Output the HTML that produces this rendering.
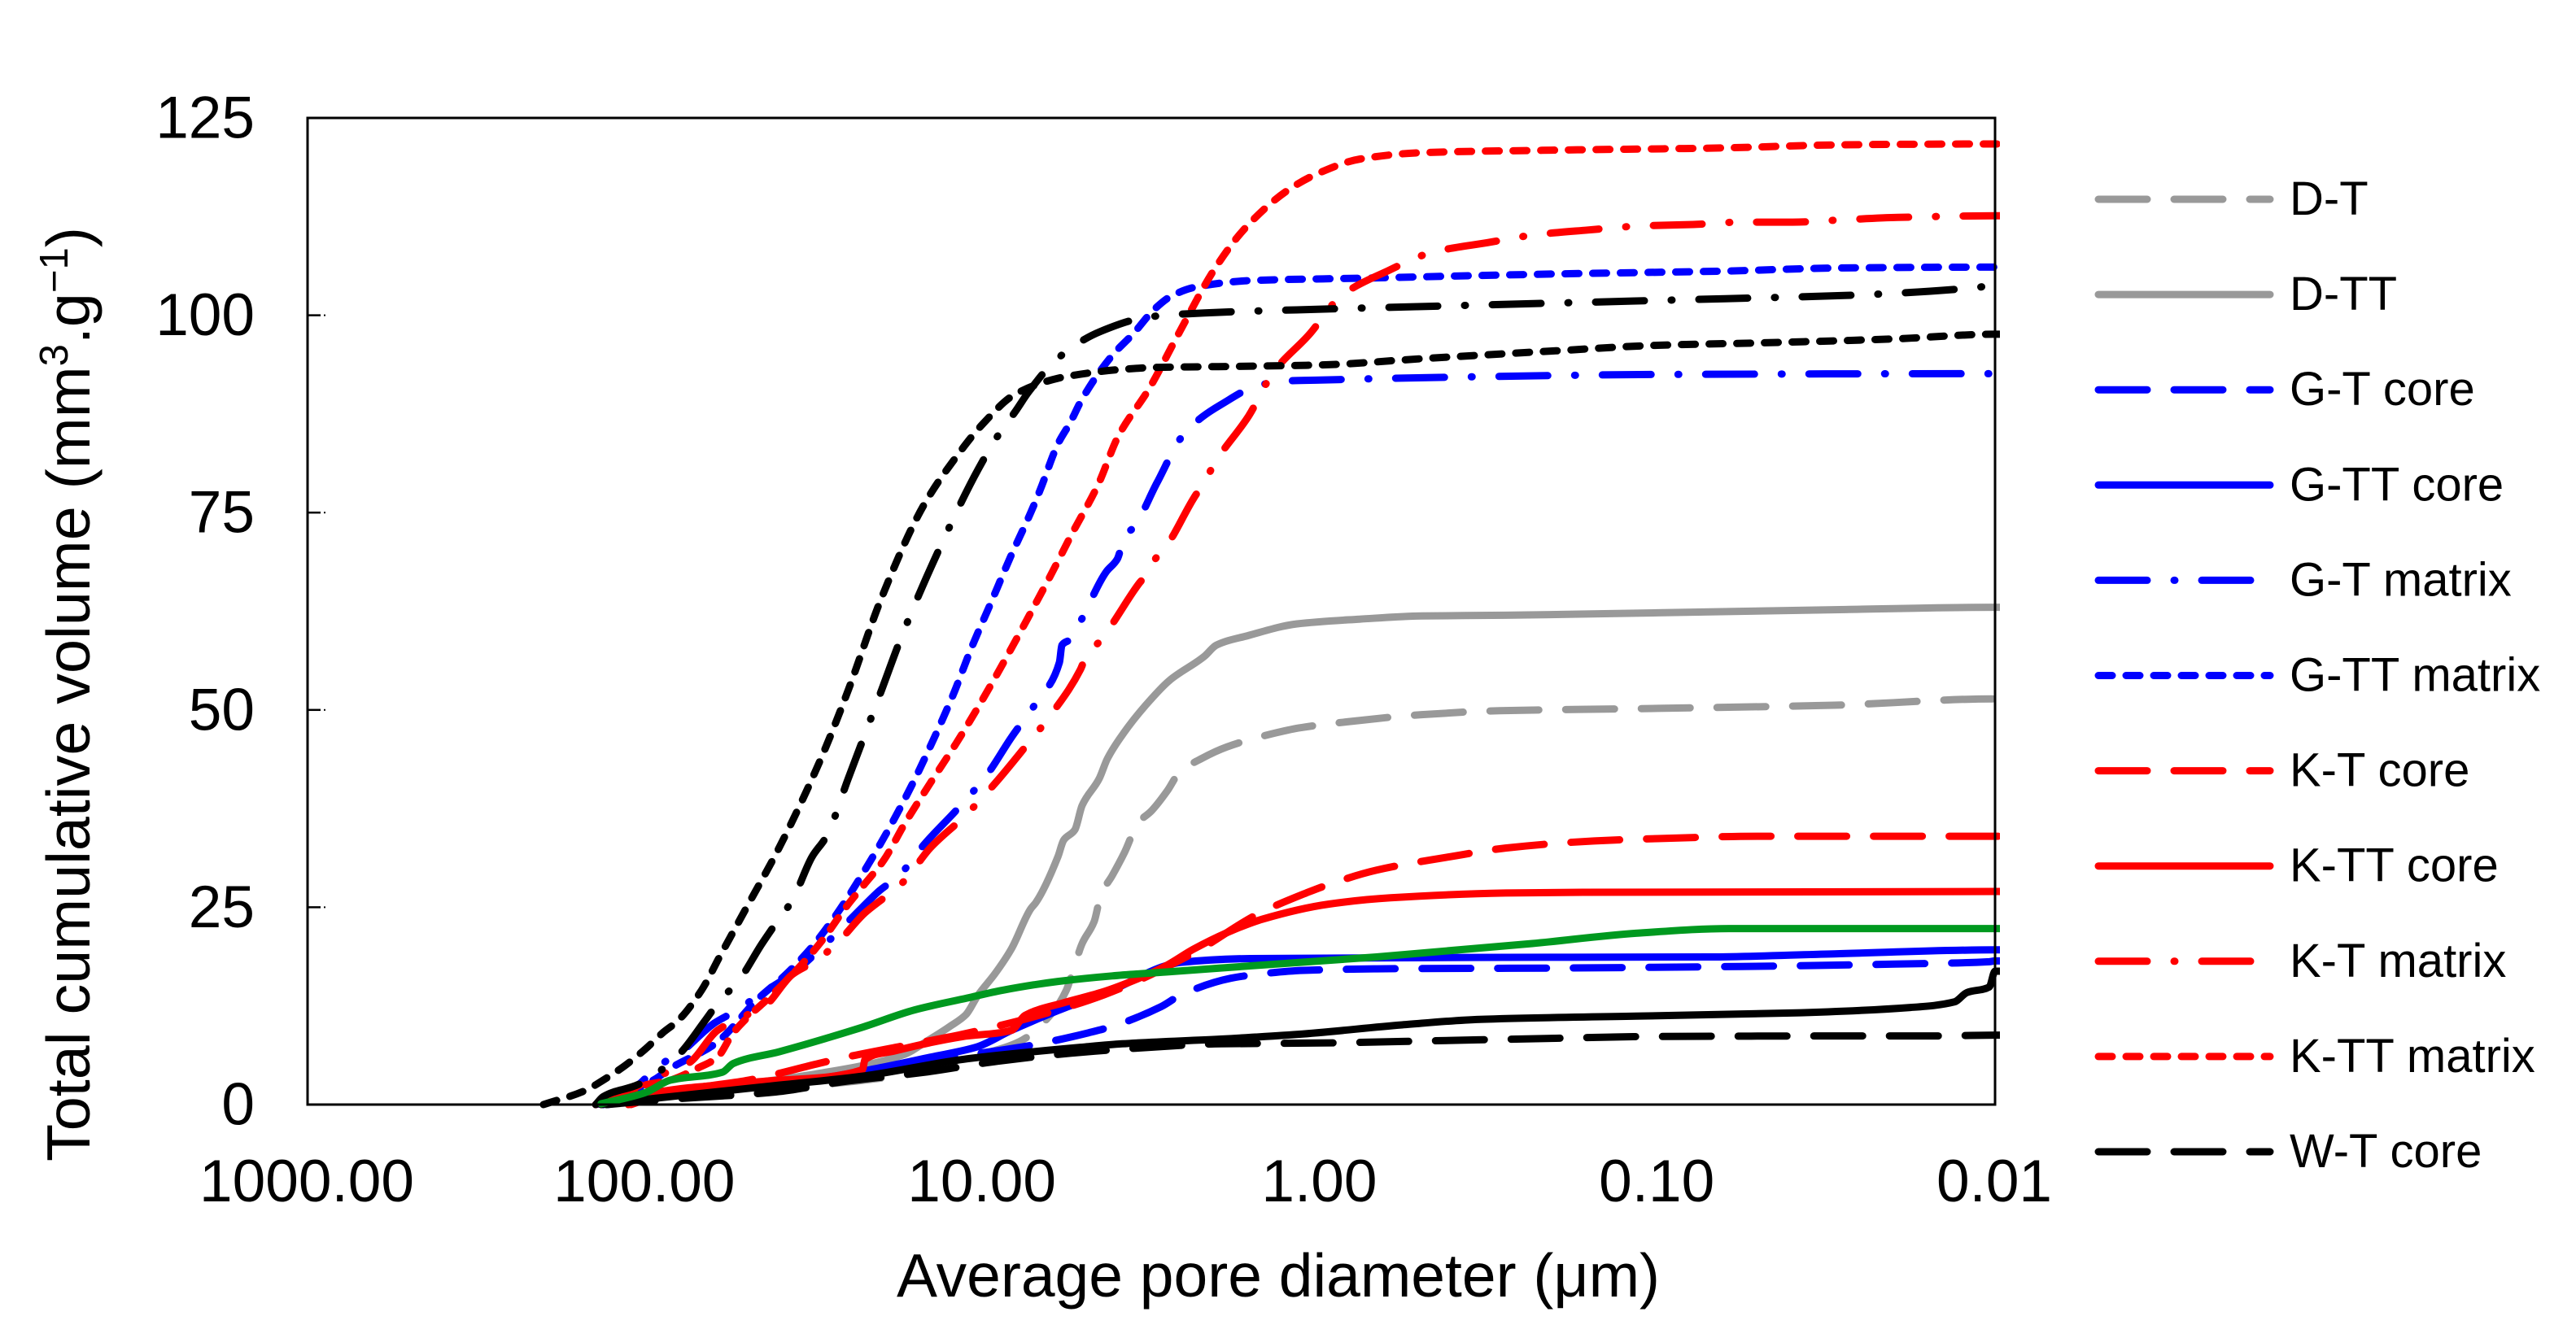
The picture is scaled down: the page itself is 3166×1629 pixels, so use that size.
<!DOCTYPE html>
<html lang="en">
<head>
<meta charset="utf-8">
<title>Total cumulative volume vs average pore diameter</title>
<style>
html,body{margin:0;padding:0;background:#fff;}
svg{display:block;font-family:"Liberation Sans",Arial,sans-serif;}
</style>
</head>
<body>
<svg id="chart" xmlns="http://www.w3.org/2000/svg" width="3166" height="1629" viewBox="0 0 3166 1629">
  <defs><clipPath id="plot-clip"><rect x="0" y="0" width="2458" height="1629"/></clipPath></defs>
  <rect x="0" y="0" width="3166" height="1629" fill="#ffffff"/>
  <g id="ticks"></g>
  <g id="series" clip-path="url(#plot-clip)"></g>
  <rect x="378" y="145" width="2074" height="1213" fill="none" stroke="#000" stroke-width="3"/>
  <g id="tick-labels" font-size="73" fill="#000"></g>
  <text transform="translate(110,1428) rotate(-90)" font-size="75.5" fill="#000">Total cumulative volume (mm<tspan font-size="49" dy="-27">3</tspan><tspan dy="27">.g</tspan><tspan font-size="49" dy="-27">−1</tspan><tspan dy="27">)</tspan></text>
  <text x="1571" y="1594" text-anchor="middle" font-size="75" fill="#000">Average pore diameter (μm)</text>
  <g id="legend"></g>
</svg>
<script>
// ---- axis data ----
const yTickValues = [0, 25, 50, 75, 100, 125];
const xTickValues = [1000, 100, 10, 1, 0.1, 0.01];
const xTickLabels = ["1000.00", "100.00", "10.00", "1.00", "0.10", "0.01"];

// ---- series data: diameter (µm) and cumulative volume (mm3/g) ----
const dtDiameter = [130,100,60,30,17.7,10,7.76,6.22,5.66,5.45,5.07,4.67,4.46,4.13,3.8,3.46,3.16,2.83,2.62,2.23,1.89,1.38,1.16,.83,.5,.294,.1,.03,.01];
const dtVolume = [0,.6,1.2,2.5,3.7,6.4,8,11.6,14.4,16.3,20.4,23.2,26.6,29,31.9,35.7,37.2,39.8,42,43.9,45.3,47,47.7,48.5,49.4,49.9,50.2,50.6,51.4];

const dttDiameter = [130,100,60,30,17.2,14.3,12.5,11.2,10.3,9.18,8.22,7.2,6.95,5.98,5.75,5.33,5.07,4.51,4.27,3.8,3.3,2.8,2.2,2.03,1.64,1.17,.764,.5,.282,.1,.03,.01];
const dttVolume = [0,1,2.2,4,6.3,8.3,9.9,11.4,13.9,16.6,19.7,24.8,25.6,31.4,33.5,34.8,37.9,41.3,43.8,47.2,50.5,53.7,56.8,58.2,59.4,60.9,61.5,61.9,62,62.3,62.7,63];

const gtCoreDiameter = [130,100,60,30,17,7.9,6.8,4.85,4.13,2.96,2.58,1.84,1.54,1.12,.68,.197,.057,.0198,.0104,.01];
const gtCoreVolume = [0,.6,1.5,3.2,5.2,7.2,7.7,9.1,9.9,12.4,13.9,16,16.5,17,17.2,17.3,17.5,17.8,18.1,18.2];

const gttCoreDiameter = [140,78,32,20.5,14.3,10.4,8.22,5.98,4.99,4.13,2.86,2.6,1.61,.282,.07,.03,.01];
const gttCoreVolume = [0,1.9,3.2,4.6,6,7.3,9.4,11.9,13.2,14.5,17.6,18,18.5,18.65,18.7,19.1,19.6];

const gtMatrixDiameter = [133,104,93.3,78,62.4,53.7,45.9,36.6,28,22.7,20.2,17.7,14.8,11.9,9.7,8.22,6.89,5.92,5.82,5.45,5.07,4.3,3.99,3.78,3.59,3.04,2.58,2.3,1.98,1.5,1.22,1,.36,.1,.01];
const gtMatrixVolume = [0,2.6,4.6,6.7,10.3,11.9,13.9,16.6,21.1,25,27.1,29,33.1,37.4,41.8,46.5,51.1,56,58.2,59,61.6,67.5,69.1,72.2,73,78.8,84.5,86.7,88.6,91.2,91.7,91.8,92.2,92.5,92.6];

const gttMatrixDiameter = [133,93.5,84,62,46,38,32,27,22.7,19.2,16.1,14,12.2,10.8,9.44,8.26,7.2,6.76,5.98,5.5,5.07,4.13,3.57,3.09,2.74,2.32,1.6,.76,.22,.064,.028,.01];
const gttMatrixVolume = [0,3.2,4.6,7.7,13.5,16.6,20,24.2,29.2,34.5,40.7,46.2,52,57.8,63.6,69.4,75,77.8,83.7,86.4,89.4,94.9,97.7,100.8,102.5,103.6,104.4,104.7,105.2,105.6,106,106.1];

const ktCoreDiameter = [110,84,49.3,30.6,26.7,16,11.5,9.75,7.08,4.37,2.37,1.52,1.1,.94,.68,.412,.282,.154,.1,.05,.01];
const ktCoreVolume = [0,1.6,3.1,5.2,5.8,7.7,8.9,9.6,11.1,13.9,19.2,24.2,26.8,27.9,29.7,31.4,32.5,33.4,33.7,34,34];

const kttCoreDiameter = [112,93.5,45.9,22.7,22.3,18.2,11.5,8.22,7.48,5.75,4.46,3.44,2.86,2.37,1.79,1.48,.94,.618,.282,.166,.01];
const kttCoreVolume = [0,1.5,2.9,4.4,5.7,6.8,8.6,9.4,11.3,12.9,14.2,16,17.6,19.7,22.2,23.5,25.4,26.2,26.8,26.9,27];

const ktMatrixDiameter = [140,102,88,74,61,52.7,44.4,36.6,31.6,27.5,22.3,19.6,17.1,14.3,11.2,9.18,7.48,6.22,5.13,4.88,4.54,4.25,3.44,3.25,3.08,2.86,2.37,2.24,2,1.63,1.38,1.08,.863,.632,.463,.319,.23,.161,.114,.0784,.0565,.0398,.0281,.0194,.01];
const ktMatrixVolume = [0,2.6,3.9,5.3,9.4,10.9,12.4,16.5,18.1,20.1,24.3,26.2,28.3,32.5,36.7,40.7,45.3,49.6,55.1,57.3,58.5,60.1,66,67.3,69.1,70.7,76.8,78.4,82,87.2,92.7,97.5,102.5,105.6,108,109.2,110.2,110.8,111.3,111.5,111.8,111.8,112.1,112.4,112.6];

const kttMatrixDiameter = [112,104,84,70,61,55,49,43,34.6,30,25.2,22.7,19.6,17,14.3,12,10.1,8.59,7.35,6.33,5.42,4.54,3.97,3.2,2.6,2.05,1.67,1.24,1.01,.76,.5,.22,.065,.028,.01];
const kttMatrixVolume = [0,2.2,3.1,4.6,6,9,11.3,13.5,17.6,20.7,25.2,27.6,31,35.6,40.7,45.7,51,56.3,61.6,66.8,72.4,78.6,84.6,90.8,98,105.9,111,115.9,118,119.8,120.6,120.9,121.2,121.6,121.7];

const wtCoreDiameter = [130,90,41,26,14.8,9,5.5,3.34,1.97,1,.57,.34,.2,.118,.024,.015,.01];
const wtCoreVolume = [0,.6,1.6,2.9,4.1,5.5,6.5,7.2,7.7,7.8,8,8.2,8.4,8.6,8.7,8.7,8.8];

const wttCoreDiameter = [135,93,46,22.7,11.1,5,3.86,1.97,1.16,.571,.336,.116,.0401,.0178,.0132,.0121,.0104,.01];
const wttCoreVolume = [0,.8,2.2,3.6,5.8,7.3,7.7,8.3,8.9,10.1,10.8,11.2,11.6,12.3,13,14.2,14.9,16.9];

const wtMatrixDiameter = [140,133,104,79.6,66,60,53,45,40.6,36.6,32,29,25,20,17.3,13.4,10.3,8.8,8,7.3,6,4.5,3.2,2.2,.93,.22,.063,.028,.0114,.01];
const wtMatrixVolume = [0,1,2.6,6.3,10.8,13.2,15.6,20.4,23.2,25.9,31.4,34,41.3,52.3,59.5,70.5,80.5,85.4,87.8,90.3,94.5,97.9,99.8,100.3,100.8,101.5,102.1,102.5,103.5,103.8];

const wttMatrixDiameter = [200,150,133,115,100,88,80,68,60,50,40,30,25,20,15,12,10,8,6,5,4,3,2,1,.5,.2,.1,.05,.02,.01];
const wttMatrixVolume = [0,1.8,3.1,4.9,7,9.2,10.6,14.5,18.8,25,32.6,44,52.5,64,75.8,82,86.2,90,92,92.6,93.1,93.4,93.5,93.7,94.5,95.5,96.2,96.5,97,97.6];

const greenDiameter = [135,100,84,59,54.8,40,22.7,15.9,11.1,8.69,5.98,4.13,2.86,1.97,.68,.235,.116,.0614,.01];
const greenVolume = [.1,1.5,3.1,4.1,5.2,6.7,9.8,12,13.5,14.5,15.6,16.3,16.8,17.3,18.7,20.4,21.7,22.3,22.3];

// ---- axis functions ----
const SVG_NS = "http://www.w3.org/2000/svg";
function xScale(d) { return 378 + (3 - Math.log10(d)) * 414.8; }
function yScale(v) { return 1358 - v * 9.704; }

const GRAY = "#999999", BLUE = "#0000ff", RED = "#ff0000", BLACK = "#000000", GREEN = "#00991f";
const DASH_LONG = "60 33", DASH_SOLID = "", DASH_DOT = "60 33 1 33", DASH_SYS = "17 17";

const seriesList = [
  ["D-T", "d-t", dtDiameter, dtVolume, GRAY, DASH_LONG, true],
  ["D-TT", "d-tt", dttDiameter, dttVolume, GRAY, DASH_SOLID, true],
  ["G-T core", "g-t-core", gtCoreDiameter, gtCoreVolume, BLUE, DASH_LONG, true],
  ["G-TT core", "g-tt-core", gttCoreDiameter, gttCoreVolume, BLUE, DASH_SOLID, true],
  ["G-T matrix", "g-t-matrix", gtMatrixDiameter, gtMatrixVolume, BLUE, DASH_DOT, true],
  ["G-TT matrix", "g-tt-matrix", gttMatrixDiameter, gttMatrixVolume, BLUE, DASH_SYS, true],
  ["K-T core", "k-t-core", ktCoreDiameter, ktCoreVolume, RED, DASH_LONG, true],
  ["K-TT core", "k-tt-core", kttCoreDiameter, kttCoreVolume, RED, DASH_SOLID, true],
  ["K-T matrix", "k-t-matrix", ktMatrixDiameter, ktMatrixVolume, RED, DASH_DOT, true],
  ["K-TT matrix", "k-tt-matrix", kttMatrixDiameter, kttMatrixVolume, RED, DASH_SYS, true],
  ["W-T core", "w-t-core", wtCoreDiameter, wtCoreVolume, BLACK, DASH_LONG, true],
  ["W-TT core", "w-tt-core", wttCoreDiameter, wttCoreVolume, BLACK, DASH_SOLID, false],
  ["W-T matrix", "w-t-matrix", wtMatrixDiameter, wtMatrixVolume, BLACK, DASH_DOT, false],
  ["W-TT matrix", "w-tt-matrix", wttMatrixDiameter, wttMatrixVolume, BLACK, DASH_SYS, false],
  ["unlabelled", "green", greenDiameter, greenVolume, GREEN, DASH_SOLID, false]
];

function make(tag, attrs) {
  const el = document.createElementNS(SVG_NS, tag);
  for (const k in attrs) el.setAttribute(k, attrs[k]);
  return el;
}

// Monotone cubic path through pixel points, so the curves stay smooth without overshoot
function smoothPath(xs, ys) {
  const n = xs.length, dx = [], m = [], t = [];
  for (let i = 0; i < n - 1; i++) {
    dx[i] = xs[i + 1] - xs[i];
    m[i] = (ys[i + 1] - ys[i]) / dx[i];
  }
  t[0] = m[0];
  t[n - 1] = m[n - 2];
  for (let i = 1; i < n - 1; i++) {
    if (m[i - 1] * m[i] <= 0) {
      t[i] = 0;
    } else {
      const w1 = 2 * dx[i] + dx[i - 1], w2 = dx[i] + 2 * dx[i - 1];
      t[i] = (w1 + w2) / (w1 / m[i - 1] + w2 / m[i]);
    }
  }
  let d = "M" + xs[0].toFixed(1) + " " + ys[0].toFixed(1);
  for (let i = 0; i < n - 1; i++) {
    const h = dx[i] / 3;
    d += "C" + (xs[i] + h).toFixed(1) + " " + (ys[i] + t[i] * h).toFixed(1) + " " +
         (xs[i + 1] - h).toFixed(1) + " " + (ys[i + 1] - t[i + 1] * h).toFixed(1) + " " +
         xs[i + 1].toFixed(1) + " " + ys[i + 1].toFixed(1);
  }
  return d;
}

// y-axis ticks and labels
const ticksGroup = document.getElementById("ticks");
const labelsGroup = document.getElementById("tick-labels");
yTickValues.forEach(function (v) {
  if (v !== 0 && v !== 125) {
    const tick = make("line", { x1: 378, x2: 394, y1: yScale(v), y2: yScale(v), stroke: "#000", "stroke-width": 2.5 });
    
    
    ticksGroup.appendChild(tick);
    const tickEnd = make("line", { x1: 398, x2: 400, y1: yScale(v), y2: yScale(v), stroke: "#000", "stroke-width": 2 });
    
    
    ticksGroup.appendChild(tickEnd);
  }
  const label = make("text", { x: 313, y: yScale(v) + 24.5, "text-anchor": "end" });
  
  
  label.textContent = String(v);
  labelsGroup.appendChild(label);
});

// x-axis labels
xTickValues.forEach(function (d, i) {
  const label = make("text", { x: xScale(d) - 1, y: 1477, "text-anchor": "middle" });
  
  
  label.textContent = xTickLabels[i];
  labelsGroup.appendChild(label);
});

// series lines
const seriesGroup = document.getElementById("series");
seriesList.forEach(function (s) {
  const xs = s[2].map(xScale);
  const ys = s[3].map(yScale);
  // carry the final value past the right edge, as the source lines overshoot the frame
  xs.push(2462);
  ys.push(ys[ys.length - 1]);
  const line = make("path", {
    d: smoothPath(xs, ys),
    fill: "none",
    stroke: s[4],
    "stroke-width": 9,
    "stroke-linecap": "round",
    "stroke-linejoin": "round"
  });
  if (s[5]) line.setAttribute("stroke-dasharray", s[5]);
  
  
  line.setAttribute('data-series', s[1]);
  seriesGroup.appendChild(line);
});

// legend
const legendGroup = document.getElementById("legend");
seriesList.filter(function (s) { return s[6]; }).forEach(function (s, i) {
  const ly = 245 + i * 117.1;
  const key = make("line", {
    x1: 2579, x2: 2790, y1: ly, y2: ly,
    stroke: s[4], "stroke-width": 9, "stroke-linecap": "round"
  });
  if (s[5]) key.setAttribute("stroke-dasharray", s[5]);
  
  
  legendGroup.appendChild(key);
  const text = make("text", { x: 2814, y: ly + 19, "font-size": 58, fill: "#000" });
  
  
  text.textContent = s[0];
  legendGroup.appendChild(text);
});
</script>
</body>
</html>
